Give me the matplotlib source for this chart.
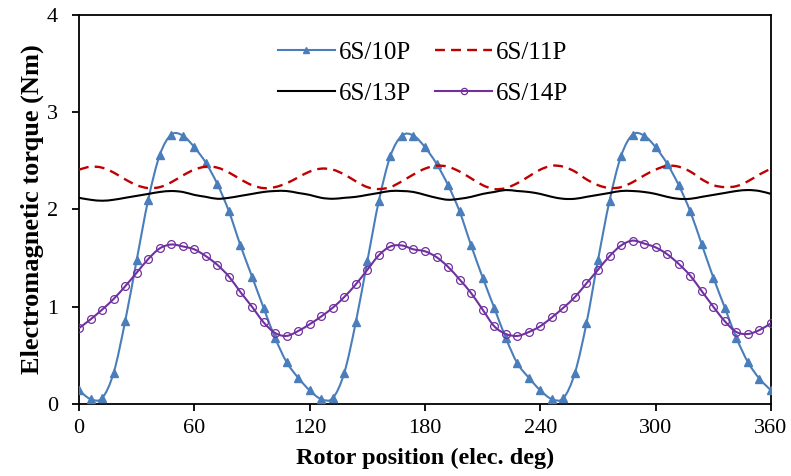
import numpy as np
import matplotlib
matplotlib.use('Agg')
import matplotlib.pyplot as plt
from matplotlib.path import Path
from matplotlib.patches import PathPatch
from matplotlib.lines import Line2D

plt.rcParams['font.family'] = ['Liberation Serif', 'DejaVu Serif']

# rotor position, elec. deg (6 deg step)
pos = list(range(0, 361, 6))

t_10p = [0.14, 0.05, 0.06, 0.32, 0.85, 1.48, 2.10, 2.56, 2.77, 2.76,
         2.64, 2.48, 2.26, 1.98, 1.63, 1.31, 0.99, 0.68, 0.43, 0.27,
         0.14, 0.05, 0.06, 0.32, 0.84, 1.47, 2.09, 2.55, 2.76, 2.76,
         2.64, 2.47, 2.25, 1.98, 1.63, 1.30, 0.99, 0.68, 0.42, 0.27,
         0.14, 0.05, 0.06, 0.32, 0.83, 1.48, 2.09, 2.55, 2.77, 2.76,
         2.64, 2.47, 2.25, 1.98, 1.64, 1.30, 0.99, 0.68, 0.43, 0.26,
         0.14]

t_11p = [2.41, 2.44, 2.43, 2.38, 2.31, 2.25, 2.22, 2.23, 2.28, 2.35,
         2.41, 2.44, 2.43, 2.38, 2.31, 2.25, 2.22, 2.23, 2.27, 2.33,
         2.39, 2.42, 2.41, 2.36, 2.29, 2.23, 2.21, 2.23, 2.29, 2.36,
         2.42, 2.45, 2.44, 2.39, 2.32, 2.25, 2.21, 2.22, 2.27, 2.34,
         2.41, 2.45, 2.44, 2.39, 2.31, 2.25, 2.22, 2.23, 2.28, 2.35,
         2.41, 2.45, 2.44, 2.39, 2.31, 2.25, 2.23, 2.24, 2.29, 2.36,
         2.42]

t_13p = [2.12, 2.10, 2.09, 2.10, 2.12, 2.14, 2.16, 2.18, 2.19, 2.18,
         2.15, 2.13, 2.11, 2.12, 2.14, 2.16, 2.18, 2.19, 2.19, 2.17,
         2.15, 2.12, 2.11, 2.12, 2.13, 2.15, 2.17, 2.19, 2.19, 2.18,
         2.15, 2.12, 2.10, 2.11, 2.13, 2.16, 2.18, 2.20, 2.19, 2.18,
         2.16, 2.13, 2.11, 2.11, 2.13, 2.15, 2.17, 2.19, 2.19, 2.18,
         2.16, 2.13, 2.11, 2.11, 2.13, 2.15, 2.17, 2.19, 2.20, 2.19,
         2.16]

t_14p = [0.78, 0.87, 0.97, 1.08, 1.21, 1.35, 1.49, 1.60, 1.64, 1.62,
         1.59, 1.52, 1.43, 1.31, 1.15, 1.00, 0.84, 0.73, 0.70, 0.75,
         0.82, 0.90, 0.99, 1.10, 1.23, 1.38, 1.53, 1.62, 1.63, 1.59,
         1.57, 1.51, 1.41, 1.28, 1.14, 0.97, 0.80, 0.72, 0.70, 0.74,
         0.80, 0.89, 0.99, 1.10, 1.24, 1.38, 1.52, 1.63, 1.68, 1.65,
         1.61, 1.54, 1.44, 1.32, 1.16, 1.00, 0.85, 0.74, 0.72, 0.76,
         0.83]

labels = ['6S/10P', '6S/11P', '6S/13P', '6S/14P']
xticks = [0, 60, 120, 180, 240, 300, 360]
yticks = [0, 1, 2, 3, 4]


def smooth(x, y):
    # excel-like smoothed line: catmull-rom segments as cubic beziers
    p = np.column_stack([x, y]).astype(float)
    e = np.vstack([p[0], p, p[-1]])
    verts = [p[0]]
    codes = [Path.MOVETO]
    for i in range(len(p) - 1):
        p0, p1, p2, p3 = e[i], e[i + 1], e[i + 2], e[i + 3]
        verts += [p1 + (p2 - p0) / 6, p2 - (p3 - p1) / 6, p2]
        codes += [Path.CURVE4] * 3
    return Path(verts, codes)


fig = plt.figure(figsize=(7.91, 4.76), dpi=100)
ax = fig.add_axes([0.0999, 0.1513, 0.8748, 0.8172])

c10 = '#4a7ebb'
c11 = '#c00000'
c13 = '#000000'
c14 = '#7030a0'
dash = (0, (4.2, 2.6))

ax.add_patch(PathPatch(smooth(pos, t_10p), fill=False, edgecolor=c10, lw=1.5, zorder=3))
ax.plot(pos, t_10p, ls='none', marker='^', ms=5.8, color=c10, zorder=3)
ax.add_patch(PathPatch(smooth(pos, t_11p), fill=False, edgecolor=c11, lw=1.7,
                       linestyle=dash, zorder=3))
ax.add_patch(PathPatch(smooth(pos, t_13p), fill=False, edgecolor=c13, lw=1.5, zorder=3))
ax.add_patch(PathPatch(smooth(pos, t_14p), fill=False, edgecolor=c14, lw=1.5, zorder=3))
ax.plot(pos, t_14p, ls='none', marker='o', ms=5.6, mfc='none', mec=c14, mew=0.9, zorder=3)

# legend: ncol=2 fills column-wise, so order 10P,13P | 11P,14P
h10 = Line2D([], [], color=c10, lw=1.5, marker='^', ms=4.5)
h11 = Line2D([], [], color=c11, lw=1.7, ls=dash)
h13 = Line2D([], [], color=c13, lw=1.5)
h14 = Line2D([], [], color=c14, lw=1.5, marker='o', ms=4.5, mfc='none', mew=0.9)
ax.legend([h10, h13, h11, h14], [labels[0], labels[2], labels[1], labels[3]],
          ncol=2, loc='upper center', bbox_to_anchor=(0.497, 0.99),
          frameon=False, fontsize=18, handlelength=2.3, handletextpad=0.15,
          columnspacing=0.95, labelspacing=0.75)

ax.set_xlim(0, 360)
ax.set_ylim(0, 4)
ax.set_xticks(xticks)
ax.set_yticks(yticks)
ax.tick_params(labelsize=16, direction='out', length=5, width=1.3)
ax.tick_params(axis='y', pad=10)
ax.tick_params(axis='x', pad=6)
for s in ax.spines.values():
    s.set_linewidth(1.3)
ax.set_xlabel('Rotor position (elec. deg)', fontsize=17.5, fontweight='bold', labelpad=7)
ax.set_ylabel('Electromagnetic torque (Nm)', fontsize=19, fontweight='bold', labelpad=2)

fig.savefig('out.png', dpi=100)
